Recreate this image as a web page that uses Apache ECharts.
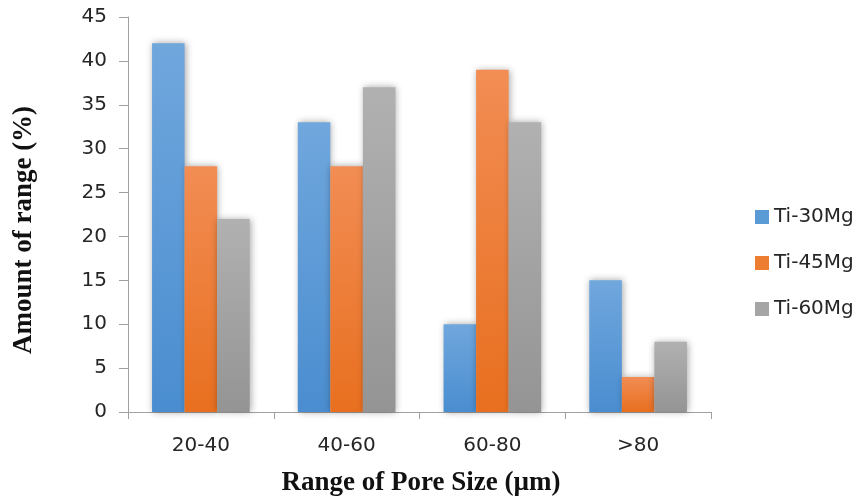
<!DOCTYPE html>
<html><head><meta charset="utf-8">
<script src="https://cdn.jsdelivr.net/npm/echarts@6/dist/echarts.min.js"></script>
<style>html,body{margin:0;padding:0;background:#fff}#c{width:858px;height:499px}</style>
</head><body><div id="c"></div>
<script>
var categories = ['20-40', '40-60', '60-80', '>80'];
var seriesNames = ['Ti-30Mg', 'Ti-45Mg', 'Ti-60Mg'];
var ti30 = [42, 33, 10, 15];
var ti45 = [28, 28, 39, 4];
var ti60 = [22, 37, 33, 8];
var yTicks = [0, 5, 10, 15, 20, 25, 30, 35, 40, 45];
var xTitle = 'Range of Pore Size (µm)';
var yTitle = 'Amount of range (%)';

var colors = [
  ['#70a7dd', '#4a8dd0', '#5b9bd5'],
  ['#f28d54', '#e86f1f', '#ed7d31'],
  ['#b1b1b1', '#949494', '#a5a5a5']
];
function grad(c) {
  return new echarts.graphic.LinearGradient(0, 0, 0, 1, [{offset: 0, color: c[0]}, {offset: 1, color: c[1]}]);
}
var data = [ti30, ti45, ti60];
var chart = echarts.init(document.getElementById('c'));
chart.setOption({
  animation: false,
  grid: {left: 128, right: 147, top: 17, bottom: 87},
  legend: {
    orient: 'vertical', left: 750, top: 202, itemGap: 26,
    itemWidth: 14, itemHeight: 14, icon: 'rect',
    textStyle: {fontFamily: 'DejaVu Sans', fontSize: 20, color: '#262626'},
    data: seriesNames.map(function (n, i) { return {name: n, itemStyle: {color: colors[i][2]}}; })
  },
  graphic: [
    {type: 'text', x: 24, y: 230, rotation: Math.PI / 2,
      style: {text: yTitle, fontFamily: 'Liberation Serif', fontWeight: 'bold', fontSize: 27, fill: '#111',
        align: 'center', verticalAlign: 'middle'}},
    {type: 'text', x: 421, y: 483,
      style: {text: xTitle, fontFamily: 'Liberation Serif', fontWeight: 'bold', fontSize: 27, fill: '#111',
        align: 'center', verticalAlign: 'middle'}}
  ],
  xAxis: {
    type: 'category', data: categories,
    axisLine: {lineStyle: {color: '#a0a0a0'}},
    axisTick: {show: true, length: 7, lineStyle: {color: '#a0a0a0'}},
    axisLabel: {fontFamily: 'DejaVu Sans', fontSize: 20, color: '#262626', margin: 24}
  },
  yAxis: {
    type: 'value', min: 0, max: 45, interval: 5,
    axisLine: {show: true, lineStyle: {color: '#a0a0a0'}},
    axisTick: {show: true, length: 9, lineStyle: {color: '#a0a0a0'}},
    splitLine: {show: false},
    axisLabel: {fontFamily: 'DejaVu Sans', fontSize: 20, color: '#262626', margin: 21,
      formatter: function (v) { return yTicks.indexOf(v) >= 0 ? String(v) : ''; }}
  },
  series: seriesNames.map(function (n, i) {
    return {
      name: n, type: 'bar', data: data[i],
      barGap: '0%', barCategoryGap: '33%',
      itemStyle: {color: grad(colors[i]), shadowColor: 'rgba(0,0,0,0.35)', shadowBlur: 7, shadowOffsetX: 1, shadowOffsetY: 0}
    };
  })
});
</script></body></html>
